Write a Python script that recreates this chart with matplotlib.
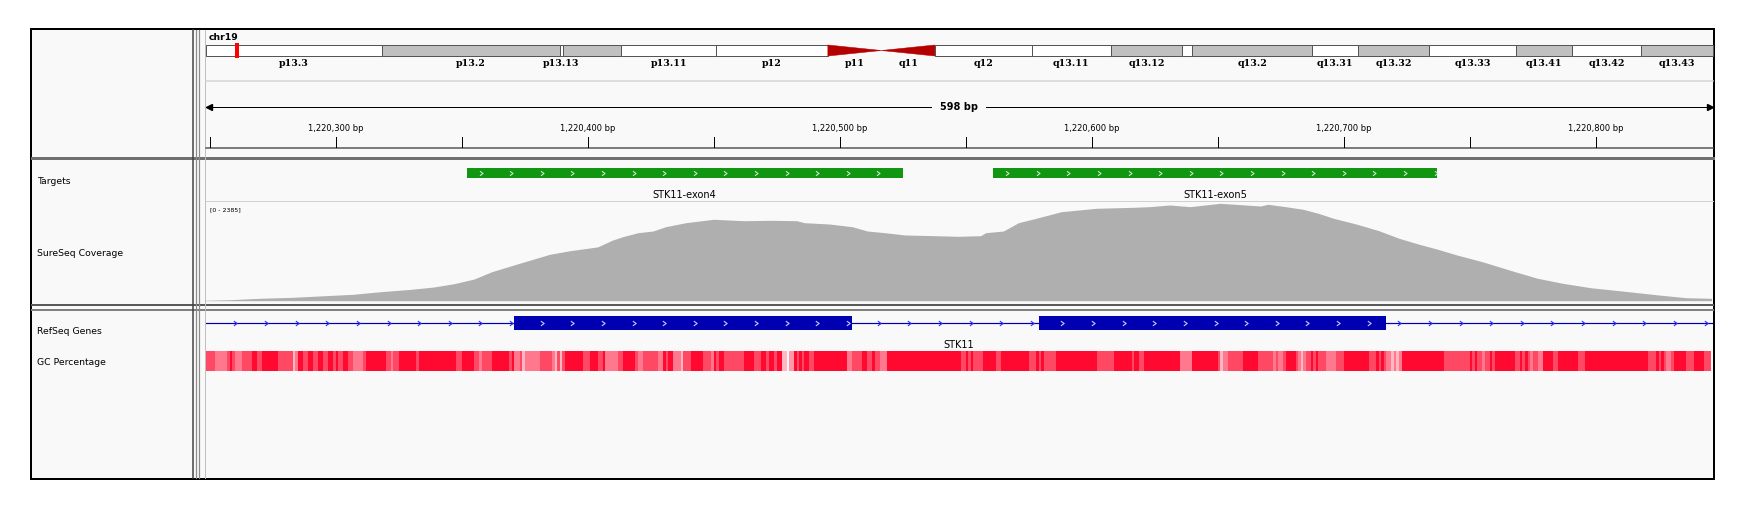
import numpy as np
import matplotlib
matplotlib.use('Agg')
import matplotlib.pyplot as plt
from matplotlib.patches import Rectangle, Polygon
from matplotlib.path import Path
from matplotlib.colors import LinearSegmentedColormap, Normalize
from matplotlib import transforms

# ---------------- data ----------------
chrom = 'chr19'
chrom_len = 59128983
view_start, view_end = 1220248.4, 1220846.4

# hg19 chr19 cytobands
band_names = ['p13.3', 'p13.2', 'p13.13', 'p13.12', 'p13.11', 'p12', 'p11', 'q11', 'q12',
              'q13.11', 'q13.12', 'q13.13', 'q13.2', 'q13.31', 'q13.32', 'q13.33',
              'q13.41', 'q13.42', 'q13.43']
band_starts = [0, 6900000, 13900000, 14000000, 16300000, 20000000, 24400000, 26500000,
               28600000, 32400000, 35500000, 38300000, 38700000, 43400000, 45200000,
               48000000, 51400000, 53600000, 56300000]
band_ends = band_starts[1:] + [chrom_len]
band_stains = ['gneg', 'gpos25', 'gneg', 'gpos25', 'gneg', 'gvar', 'acen', 'acen', 'gvar',
               'gneg', 'gpos25', 'gneg', 'gpos25', 'gneg', 'gpos25', 'gneg',
               'gpos25', 'gneg', 'gpos25']
hidden_labels = {'p13.12', 'q13.13'}

track_names = ['Targets', 'SureSeq Coverage', 'RefSeq Genes', 'GC Percentage']

target_names = ['STK11-exon4', 'STK11-exon5']
target_starts = [1220352, 1220561]
target_ends = [1220525, 1220737]

gene_name = 'STK11'
exon_starts = [1220371, 1220579]
exon_ends = [1220505, 1220717]

cov_max = 2385
cov_pos = [1220248, 1220258, 1220270, 1220283, 1220291, 1220307, 1220318, 1220330, 1220339, 1220347,
           1220355, 1220362, 1220373, 1220385, 1220393, 1220404, 1220410, 1220414, 1220420, 1220426,
           1220431, 1220439, 1220450, 1220462, 1220473, 1220483, 1220486, 1220496, 1220505, 1220511,
           1220518, 1220526, 1220538, 1220547, 1220556, 1220558, 1220565, 1220571, 1220578, 1220588,
           1220602, 1220617, 1220623, 1220631, 1220639, 1220651, 1220661, 1220667, 1220670, 1220677,
           1220684, 1220690, 1220696, 1220705, 1220714, 1220722, 1220730, 1220737, 1220745, 1220755,
           1220768, 1220777, 1220787, 1220798, 1220813, 1220825, 1220836, 1220846]
cov_val = [10, 24, 58, 82, 106, 155, 218, 275, 331, 411,
           524, 701, 904, 1121, 1208, 1300, 1467, 1547, 1643, 1684,
           1788, 1885, 1967, 1933, 1943, 1933, 1885, 1853, 1788, 1684,
           1643, 1588, 1571, 1556, 1571, 1643, 1684, 1885, 1991, 2151,
           2233, 2257, 2272, 2313, 2272, 2353, 2313, 2288, 2329, 2272,
           2208, 2111, 1991, 1853, 1692, 1508, 1363, 1249, 1104, 943,
           701, 541, 420, 314, 218, 138, 72, 58]

# GC percentage segments: start offset (bp from gc_origin) and GC %
gc_origin = 1220248
gc_last = 598
gc_offsets = [0, 4, 9, 10, 11, 12, 15, 19, 21, 23, 29, 35, 36, 37, 39, 41, 43, 45, 47, 49,
              51, 52, 53, 55, 57, 59, 63, 64, 72, 74, 75, 77, 84, 85, 100, 102, 107, 109, 110, 114,
              121, 122, 123, 125, 126, 127, 133, 138, 139, 140, 141, 142, 143, 150, 153, 156, 158, 159, 164, 166,
              171, 172, 174, 180, 182, 183, 184, 186, 189, 190, 193, 198, 201, 202, 203, 204, 206, 214, 218, 221,
              223, 224, 226, 227, 229, 231, 232, 234, 235, 236, 237, 238, 240, 242, 255, 257, 261, 263, 265, 266,
              268, 271, 300, 302, 303, 304, 305, 309, 314, 316, 327, 330, 331, 332, 333, 338, 354, 361, 368, 369,
              371, 373, 387, 392, 402, 403, 404, 406, 412, 418, 424, 425, 426, 428, 429, 433, 434, 435, 436, 437,
              439, 440, 441, 442, 445, 449, 452, 462, 465, 466, 467, 468, 469, 471, 472, 473, 474, 475, 492, 502,
              503, 504, 505, 507, 508, 510, 511, 512, 520, 522, 523, 524, 525, 526, 527, 529, 531, 535, 537, 545,
              548, 573, 576, 577, 578, 579, 580, 582, 583, 588, 591, 595]
gc_values = [55, 45, 55, 68, 55, 45, 55, 68, 55, 68, 55, 32, 45, 68, 55, 68, 55, 68, 55, 68,
             55, 68, 55, 68, 55, 45, 55, 68, 55, 45, 55, 68, 55, 68, 55, 68, 55, 45, 55, 68,
             55, 68, 45, 55, 32, 45, 55, 45, 32, 55, 32, 55, 68, 55, 68, 55, 68, 45, 55, 68,
             55, 45, 55, 45, 68, 55, 68, 45, 32, 55, 68, 55, 45, 68, 55, 68, 55, 68, 55, 68,
             55, 68, 55, 68, 32, np.nan, 38, 68, 55, 68, 55, 68, 55, 68, 45, 55, 68, 55, 68, 55,
             45, 68, 55, 68, 55, 68, 55, 68, 55, 68, 55, 68, 55, 68, 55, 68, 55, 68, 55, 68,
             55, 68, 45, 68, 55, 32, 45, 55, 68, 55, 45, 55, 45, 55, 68, 55, 45, 32, 45, 55,
             68, 55, 68, 55, 45, 55, 68, 55, 68, 55, 68, 55, 45, 32, 45, 32, 45, 68, 55, 68,
             55, 68, 55, 45, 55, 68, 55, 68, 55, 68, 55, 68, 55, 45, 55, 45, 68, 55, 68, 55,
             68, 55, 68, 55, 68, 55, 45, 55, 68, 55, 68, 55]

# ---------------- layout ----------------
W, H = 1752, 514
BG = '#f9f9f9'
DX0, DX1 = 205.5, 1712.5          # data panel, pixels
bpp = (view_end - view_start) / (DX1 - DX0)

fig = plt.figure(figsize=(W / 100, H / 100), dpi=100)
base = fig.add_axes([0, 0, 1, 1])
base.set_xlim(0, W)
base.set_ylim(H, 0)
base.axis('off')


def px(v):
    return v * 0.72


def track_axes(y0, y1, x0=DX0, x1=DX1):
    ax = fig.add_axes([x0 / W, 1 - y1 / H, (x1 - x0) / W, (y1 - y0) / H])
    ax.axis('off')
    return ax


def xdata_ypix(ax):
    return transforms.blended_transform_factory(ax.transData, base.transData)


chev = Path([(-0.7, 1), (0.7, 0), (-0.7, -1)], [Path.MOVETO, Path.LINETO, Path.LINETO])

# frame
base.add_patch(Rectangle((31, 28.5), 1713.6 - 31, 478.8 - 28.5, fc=BG, ec='black', lw=px(2), zorder=0))
base.plot([32, 1713], [158.3, 158.3], color='#707070', lw=px(3))
base.plot([32, 1713], [304.5, 304.5], color='#5a5a5a', lw=px(2))
base.plot([32, 1713], [309.5, 309.5], color='#808080', lw=px(2))
for x, c, w in [(192.5, '#404040', 1.5), (195.7, '#8a8a8a', 1.2), (198.8, '#8a8a8a', 1.2), (205, '#c0c0c0', 1)]:
    base.plot([x, x], [29.5, 478], color=c, lw=px(w))
base.plot([DX0, DX1], [81, 81], color='#d4d4d4', lw=px(1.5))
base.plot([DX0, DX1], [201, 201], color='#d0d0d0', lw=px(1))
base.plot([DX0, DX1], [148, 148], color='#555555', lw=px(1.5))

# track names
for name, yb in zip(track_names, [184, 255.5, 334, 365]):
    base.text(36.7, yb, name, fontsize=6.7, va='baseline', ha='left', color='black')

# ideogram
base.text(208.6, 37, chrom, fontsize=6.7, fontweight='bold', va='center', ha='left')
ideo = track_axes(45, 56, 206, 1713)
ideo.set_xlim(0, chrom_len)
ideo.set_ylim(0, 1)
stain_col = {'gneg': 'white', 'gvar': 'white', 'gpos25': '#c0c0c0'}
for nm, s, e, st in zip(band_names, band_starts, band_ends, band_stains):
    if st == 'acen':
        if nm.startswith('p'):
            verts = [(s, 0), (s, 1), (e, 0.5)]
        else:
            verts = [(s, 0.5), (e, 1), (e, 0)]
        ideo.add_patch(Polygon(verts, closed=True, fc='#b40000', ec='#b40000', lw=px(0.5), clip_on=False))
    else:
        ideo.add_patch(Rectangle((s, 0), e - s, 1, fc=stain_col[st], ec='#555555', lw=px(1), clip_on=False))
    if nm not in hidden_labels:
        ideo.text((s + e) / 2, 65.5, nm, transform=xdata_ypix(ideo), ha='center', va='baseline',
                  family='DejaVu Serif', fontweight='bold', fontsize=6.8)
box_w = 4.6 * chrom_len / (1713 - 206)
centre = (view_start + view_end) / 2
ideo.add_patch(Rectangle((centre - box_w / 2, -0.18), box_w, 1.36, fc='#ff0000', ec='none', clip_on=False, zorder=5))

# ruler
ruler = track_axes(82, 150)
ruler.set_xlim(view_start, view_end)
ruler.set_ylim(150, 82)
ruler.plot([view_start, view_end], [107, 107], color='black', lw=px(1))
ruler.plot([view_start + 3 * bpp], [107], marker='<', ms=4.5, color='black', clip_on=False)
ruler.plot([view_end - 3 * bpp], [107], marker='>', ms=4.5, color='black', clip_on=False)
ruler.text((view_start + view_end) / 2, 107.5, f'{int(round(view_end - view_start))} bp',
           ha='center', va='center', fontsize=7, fontweight='bold',
           bbox=dict(boxstyle='square,pad=0.85', fc=BG, ec='none'))
for t in np.arange(np.ceil(view_start / 50) * 50, view_end, 50):
    ruler.plot([t, t], [137, 147], color='black', lw=px(1))
    if int(t) % 100 == 0:
        ruler.text(t, 131, f'{int(t):,} bp', ha='center', va='baseline', fontsize=6)

# targets
tgt = track_axes(160, 201)
tgt.set_xlim(view_start, view_end)
tgt.set_ylim(201, 160)
for nm, s, e in zip(target_names, target_starts, target_ends):
    tgt.broken_barh([(s, e - s)], (168.3, 9.4), facecolors='#109610')
    xs = np.arange(s + 14 * bpp, e - bpp, 30.6 * bpp)
    tgt.plot(xs, np.full(len(xs), 173.0), ls='none', marker=chev, ms=3.2, mew=px(1),
             mec='#d8f0d8', mfc='none')
    tgt.text((s + e) / 2, 198.3, nm, ha='center', va='baseline', fontsize=7)

# coverage
cov = track_axes(202, 300.7)
cov.set_xlim(view_start, view_end)
cov.set_ylim(0, cov_max)
cov.fill_between(cov_pos, cov_val, color='#afafaf', lw=0)
base.text(210, 211, f'[0 - {cov_max}]', fontsize=4.5, va='baseline', ha='left')

# refseq gene
gene = track_axes(311, 350)
gene.set_xlim(view_start, view_end)
gene.set_ylim(350, 311)
gene.plot([view_start, view_end], [323.3, 323.3], color='#0000b2', lw=px(1.2))
for s, e in zip(exon_starts, exon_ends):
    gene.broken_barh([(s, e - s)], (315.7, 14.3), facecolors='#0000b2')
xs = np.arange(view_start + 29.9 * bpp, view_end, 30.63 * bpp)
in_exon = np.zeros(len(xs), bool)
for s, e in zip(exon_starts, exon_ends):
    in_exon |= (xs > s) & (xs < e)
gene.plot(xs[~in_exon], np.full((~in_exon).sum(), 323.3), ls='none', marker=chev, ms=3.4,
          mew=px(1.1), mec='#2a2aff', mfc='none')
gene.plot(xs[in_exon], np.full(in_exon.sum(), 323.3), ls='none', marker=chev, ms=3.4,
          mew=px(1.1), mec='#c8c8ff', mfc='none')
gene.text((view_start + view_end) / 2, 348.3, gene_name, ha='center', va='baseline', fontsize=7)

# GC percentage
gc = track_axes(351, 371.3)
gc.set_xlim(view_start, view_end)
gc.set_ylim(0, 1)
gc_cmap = LinearSegmentedColormap.from_list('gc', ['#fff0f2', '#ff0028'])
edges = gc_origin + np.array(gc_offsets + [gc_last], float)
vals = np.ma.masked_invalid(np.array(gc_values, float))[np.newaxis, :]
gc.pcolormesh(edges, [0, 1], vals, cmap=gc_cmap, norm=Normalize(20, 70), shading='flat',
              antialiased=False, edgecolors='none')

fig.savefig('out.png', dpi=100)
